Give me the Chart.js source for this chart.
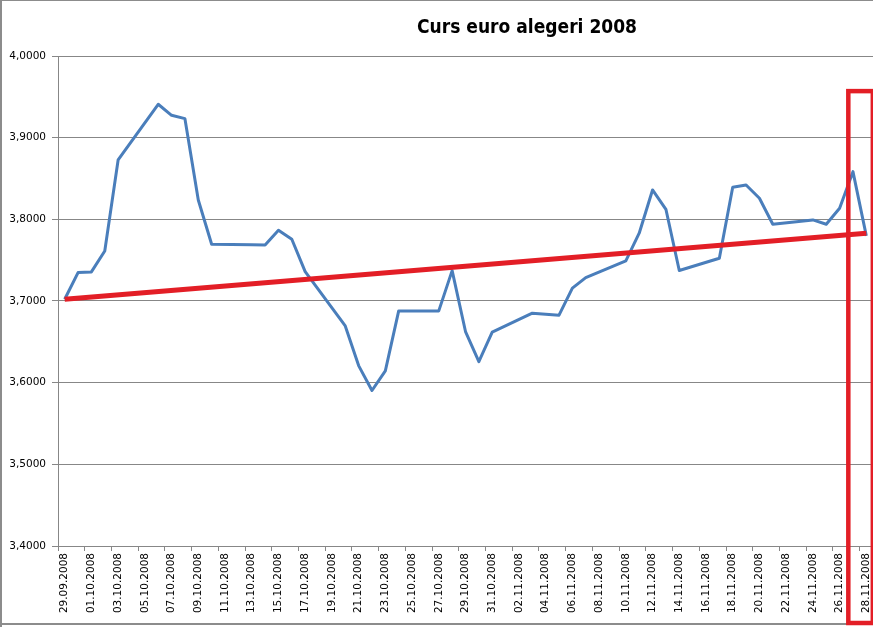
<!DOCTYPE html>
<html>
<head>
<meta charset="utf-8">
<script src="https://cdn.jsdelivr.net/npm/chart.js@4"></script>
<style>
  body { margin: 0; background: #fff; }
  canvas { display: block; }
</style>
</head>
<body>
<canvas id="cursChart" width="873" height="627"></canvas>
<script>
// Every calendar day from 29.09.2008 to 28.11.2008 (weekends have no quote)
const dayLabels = [
    '29.09.2008', '30.09.2008', '01.10.2008', '02.10.2008', '03.10.2008', '04.10.2008', '05.10.2008',
    '06.10.2008', '07.10.2008', '08.10.2008', '09.10.2008', '10.10.2008', '11.10.2008', '12.10.2008',
    '13.10.2008', '14.10.2008', '15.10.2008', '16.10.2008', '17.10.2008', '18.10.2008', '19.10.2008',
    '20.10.2008', '21.10.2008', '22.10.2008', '23.10.2008', '24.10.2008', '25.10.2008', '26.10.2008',
    '27.10.2008', '28.10.2008', '29.10.2008', '30.10.2008', '31.10.2008', '01.11.2008', '02.11.2008',
    '03.11.2008', '04.11.2008', '05.11.2008', '06.11.2008', '07.11.2008', '08.11.2008', '09.11.2008',
    '10.11.2008', '11.11.2008', '12.11.2008', '13.11.2008', '14.11.2008', '15.11.2008', '16.11.2008',
    '17.11.2008', '18.11.2008', '19.11.2008', '20.11.2008', '21.11.2008', '22.11.2008', '23.11.2008',
    '24.11.2008', '25.11.2008', '26.11.2008', '27.11.2008', '28.11.2008'
];

// EUR/RON rate, null on weekends
const cursEuro = [
    3.7022, 3.7348, 3.7356, 3.7613, 3.8727, null, null,
    3.9409, 3.9274, 3.9233, 3.8237, 3.7695, null, null,
    3.7690, 3.7687, 3.7866, 3.7756, 3.7360, null, null,
    3.6695, 3.6209, 3.5904, 3.6144, 3.6879, null, null,
    3.6879, 3.7372, 3.6626, 3.6258, 3.6618, null, null,
    3.6851, 3.6838, 3.6826, 3.7157, 3.7287, null, null,
    3.7491, 3.7830, 3.8360, 3.8123, 3.7373, null, null,
    3.7523, 3.8393, 3.8421, 3.8258, 3.7940, null, null,
    3.7993, 3.7940, 3.8136, 3.8584, 3.7797
];

// Linear trend: only the two end values
const trendStart = 3.7022;
const trendEnd = 3.7830;

const yTicksMin = 3.4;
const yTicksMax = 4.0;
const yTicksStep = 0.1;

const chartTitle = 'Curs euro alegeri 2008';

const gridGray = '#878787';
const tickFont = { family: '"DejaVu Sans", Verdana, sans-serif', size: 10.5 };

const trendValues = dayLabels.map((d, i) => {
    if (i === 0) return trendStart;
    if (i === dayLabels.length - 1) return trendEnd;
    return null;
});

// Title drawn by hand so it can sit where Excel put it
const titlePlugin = {
    id: 'excelTitle',
    afterDraw(chart) {
        const c = chart.ctx;
        c.save();
        c.font = 'bold 19px "Liberation Sans Narrow", "DejaVu Sans Condensed", "Liberation Sans", sans-serif';
        c.fillStyle = '#000';
        c.textBaseline = 'alphabetic';
        c.textAlign = 'left';
        const w = c.measureText(chartTitle).width;
        const target = 220;
        c.translate(527 - target / 2, 33);
        c.scale(target / w, 1);
        c.fillText(chartTitle, 0, 0);
        c.restore();
    }
};

// Gray chart frame + the red highlight box around the last day
const framePlugin = {
    id: 'frameAndBox',
    afterDraw(chart) {
        const c = chart.ctx;
        c.save();
        c.fillStyle = '#8c8c8c';
        c.fillRect(0, 0, chart.width, 1);
        c.fillRect(0, 0, 2, chart.height);
        c.fillRect(0, 623, chart.width, 2);

        const xLast = chart.scales.x.getPixelForValue(dayLabels.length - 1);
        const yTop = chart.scales.y.getPixelForValue(3.957);
        c.strokeStyle = '#e31e26';
        c.lineWidth = 4.5;
        c.strokeRect(xLast - 18, yTop, 24.5, 623 - yTop);
        c.restore();
    }
};

const ctx = document.getElementById('cursChart').getContext('2d');
const cursChart = new Chart(ctx, {
    type: 'line',
    data: {
        labels: dayLabels,
        datasets: [
            {
                label: 'trend',
                data: trendValues,
                borderColor: '#e31e26',
                borderWidth: 5,
                pointRadius: 0,
                spanGaps: true,
                tension: 0
            },
            {
                label: 'curs',
                data: cursEuro,
                borderColor: '#4a7ebb',
                borderWidth: 3,
                borderJoinStyle: 'round',
                pointRadius: 0,
                spanGaps: true,
                tension: 0
            }
        ]
    },
    options: {
        responsive: false,
        animation: false,
        layout: {
            padding: { top: 56, left: 0, right: 0, bottom: 0 }
        },
        plugins: {
            legend: { display: false },
            title: { display: false },
            tooltip: { enabled: false }
        },
        scales: {
            x: {
                offset: true,
                grid: {
                    offset: true,
                    drawOnChartArea: false,
                    drawTicks: true,
                    tickLength: 5,
                    color: function(context) {
                        return context.index % 2 === 0 ? gridGray : 'rgba(0,0,0,0)';
                    }
                },
                border: { color: gridGray, width: 1 },
                ticks: {
                    autoSkip: false,
                    minRotation: 90,
                    maxRotation: 90,
                    padding: 2,
                    color: '#000',
                    font: tickFont,
                    callback: function(value, index) {
                        return index % 2 === 0 ? this.getLabelForValue(value) : '';
                    }
                },
                afterFit: function(scale) {
                    scale.height = 81;
                    scale.paddingLeft = 0;
                    scale.paddingRight = 0;
                }
            },
            y: {
                min: yTicksMin,
                max: yTicksMax,
                grid: {
                    color: gridGray,
                    tickLength: 6
                },
                border: { color: gridGray, width: 1 },
                ticks: {
                    stepSize: yTicksStep,
                    padding: 6,
                    color: '#000',
                    font: tickFont,
                    callback: function(value) {
                        return value.toFixed(4).replace('.', ',');
                    }
                },
                afterFit: function(scale) {
                    scale.width = 58;
                    scale.paddingTop = 0;
                    scale.paddingBottom = 0;
                }
            }
        }
    },
    plugins: [titlePlugin, framePlugin]
});
</script>
</body>
</html>
